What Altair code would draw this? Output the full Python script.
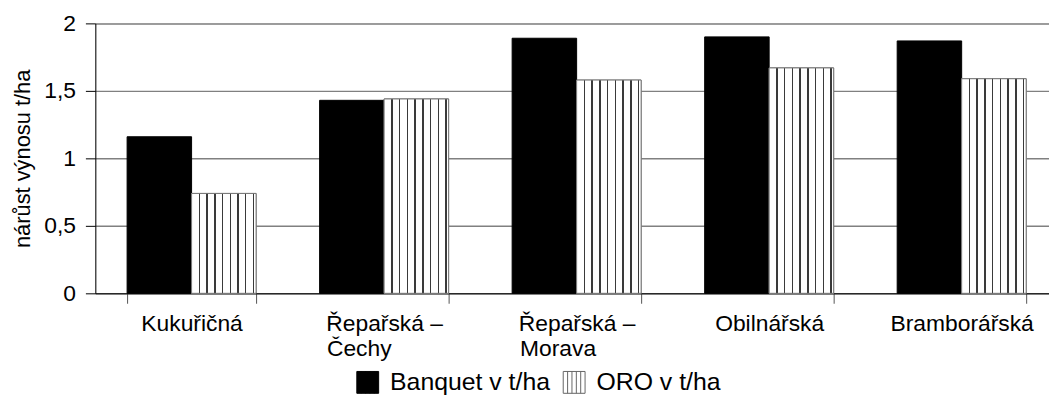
import altair as alt
import pandas as pd

categories = ["Kukuřičná", "Řepařská –\nČechy", "Řepařská –\nMorava", "Obilnářská", "Bramborářská"]
series = ["Banquet v t/ha", "ORO v t/ha"]
banquet = [1.16, 1.43, 1.89, 1.90, 1.87]
oro = [0.74, 1.44, 1.58, 1.67, 1.59]
y_ticks = [0, 0.5, 1, 1.5, 2]

rows = []
for c, b, o in zip(categories, banquet, oro):
    rows.append({"kategorie": c, "serie": series[0], "hodnota": b})
    rows.append({"kategorie": c, "serie": series[1], "hodnota": o})
df = pd.DataFrame(rows)

FONT = "Liberation Sans"
FS_TITLE = 22
FS_LABEL = 23
FS_LEGEND = 25

# vertical hatch pattern as a sharp-stop linear gradient
stripe_color = "#3a3a3a"
stops = [alt.GradientStop(offset=0, color="white")]
for k in range(1, 9):
    f = k * 0.12
    stops += [
        alt.GradientStop(offset=round(f - 0.011, 4), color="white"),
        alt.GradientStop(offset=round(f - 0.011, 4), color=stripe_color),
        alt.GradientStop(offset=round(f + 0.011, 4), color=stripe_color),
        alt.GradientStop(offset=round(f + 0.011, 4), color="white"),
    ]
stops.append(alt.GradientStop(offset=1, color="white"))
hatch = alt.LinearGradient(gradient="linear", stops=stops, x1=0, x2=1, y1=0, y2=0)

hatch_symbol = "M-1,-1H1V1H-1Z M-0.6,-1V1 M-0.2,-1V1 M0.2,-1V1 M0.6,-1V1"

# multi-line labels: second line padded (non-breaking spaces + zero-width space)
# so that both lines start at the same x, as in the original
L = "split(datum.label, '\\n')"
label_expr = (
    f"length({L}) > 1 ? [{L}[0], pad({L}[1], length({L}[1]) + "
    f"round((length({L}[0]) - length({L}[1])) * 1.6), '\u00a0') + '\u200b'] : datum.label"
)

x_enc = alt.X(
    "kategorie:N",
    sort=categories,
    scale=alt.Scale(domain=categories, range=[0, 970], paddingInner=0.33, paddingOuter=0.165),
    axis=alt.Axis(
        title=None,
        labelAngle=0,
        labelFont=FONT,
        labelFontSize=FS_LABEL,
        labelColor="black",
        labelPadding=9,
        labelLineHeight=26,
        labelLimit=400,
        labelExpr=label_expr,
        tickBand="extent",
        tickSize=10,
        tickColor="#555555",
        domainColor="black",
        grid=False,
    ),
)
xoff = alt.XOffset("serie:N", scale=alt.Scale(domain=series, paddingInner=0, paddingOuter=0))
y_enc = alt.Y(
    "hodnota:Q",
    scale=alt.Scale(domain=[0, 2], nice=False),
    axis=alt.Axis(
        values=y_ticks,
        title="nárůst výnosu t/ha",
        titleFont=FONT,
        titleFontSize=FS_TITLE,
        titleFontWeight="normal",
        titleColor="black",
        titlePadding=9,
        labelFont=FONT,
        labelFontSize=FS_LABEL,
        labelColor="black",
        labelPadding=10,
        labelExpr="replace(toString(datum.value), '.', ',')",
        tickSize=10,
        tickColor="black",
        domainColor="black",
        grid=True,
        gridColor="#808080",
        gridWidth=1.5,
    ),
)

legend_kw = dict(
    title=None,
    orient="none",
    direction="horizontal",
    legendX=262,
    legendY=349,
    symbolType=hatch_symbol,
    symbolSize=484,
    symbolStrokeWidth=1,
    labelFont=FONT,
    labelFontSize=FS_LEGEND,
    labelColor="black",
    labelOffset=10,
    labelLimit=400,
    columnPadding=10,
)

base = alt.Chart(df)

bars = base.mark_bar(strokeWidth=1).encode(
    x=x_enc,
    xOffset=xoff,
    y=y_enc,
    fill=alt.Fill(
        "serie:N",
        scale=alt.Scale(domain=series, range=["black", "white"]),
        legend=alt.Legend(**legend_kw),
    ),
    stroke=alt.Stroke(
        "serie:N",
        scale=alt.Scale(domain=series, range=["black", "#666666"]),
        legend=alt.Legend(**legend_kw),
    ),
)

hatched = base.transform_filter(alt.datum.serie == series[1]).mark_bar(
    fill=hatch, stroke="#777777", strokeWidth=1
).encode(x=x_enc, xOffset=xoff, y=y_enc)

chart = alt.layer(bars, hatched).properties(
    width=961,
    height=272,
    autosize=alt.AutoSizeParams(type="none"),
    padding={"left": 88, "top": 14, "right": 0, "bottom": 107},
).configure_view(stroke=None).configure(background="white")

chart.save("out.html", embed_options={"renderer": "svg", "actions": False})
